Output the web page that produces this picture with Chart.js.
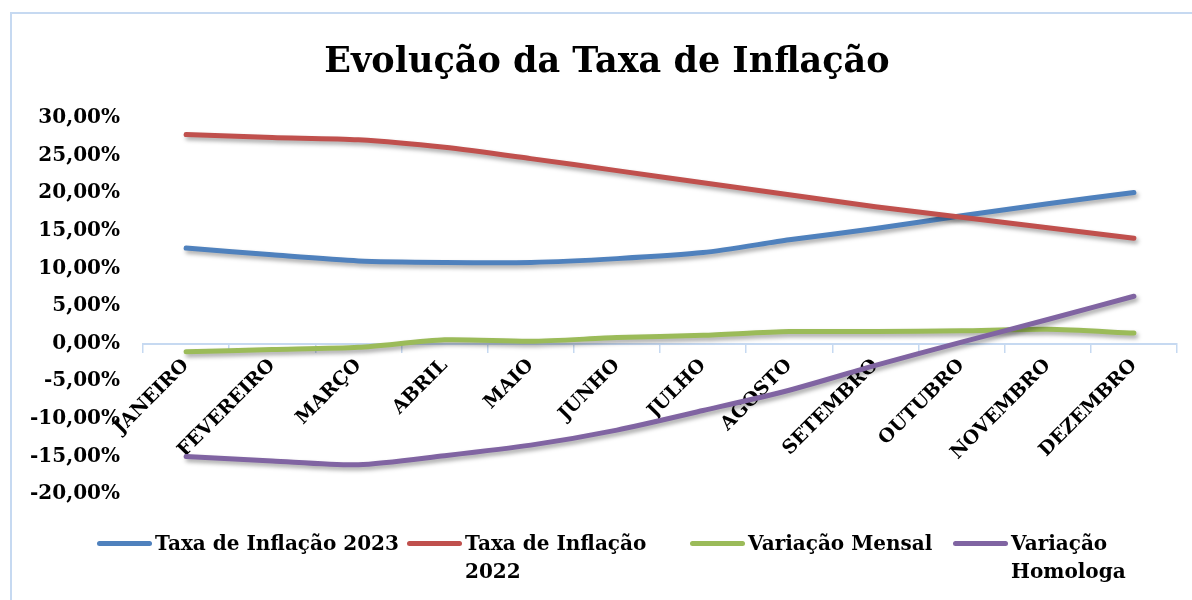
<!DOCTYPE html>
<html lang="pt">
<head>
    <meta charset="UTF-8">
    <title>Evolução da Taxa de Inflação</title>
    <script src="https://cdn.jsdelivr.net/npm/chart.js@4.4.1/dist/chart.umd.min.js"></script>
    <style>
        html, body {
            margin: 0;
            padding: 0;
            background: #ffffff;
        }
        .frame {
            position: relative;
            width: 1192px;
            height: 600px;
            overflow: hidden;
        }
        .border {
            position: absolute;
            left: 10px;
            top: 12px;
            width: 1200px;
            height: 600px;
            border-left: 2px solid #c6d9f1;
            border-top: 2px solid #c6d9f1;
            pointer-events: none;
        }
        canvas {
            position: absolute;
            left: 0;
            top: 0;
        }
        .title {
            position: absolute;
            left: 10px;
            width: 1194px;
            top: 40px;
            text-align: center;
            font-family: 'DejaVu Serif', serif;
            font-weight: bold;
            font-size: 35px;
            line-height: 40px;
            color: #000;
        }
        .legend-item {
            position: absolute;
            top: 529px;
            display: flex;
            align-items: flex-start;
            font-family: 'DejaVu Serif', serif;
            font-weight: bold;
            font-size: 20px;
            line-height: 28px;
            color: #000;
        }
        .legend-line {
            width: 55px;
            height: 5px;
            border-radius: 3px;
            margin-top: 12px;
            margin-right: 3px;
            flex: none;
        }
    </style>
</head>
<body>
    <div class="frame">
        <canvas id="chart" width="1192" height="600"></canvas>
        <div class="border"></div>
        <div class="title">Evolução da Taxa de Inflação</div>
        <div id="legend"></div>
    </div>

    <script>
        // Dados
        const months = ['JANEIRO', 'FEVEREIRO', 'MARÇO', 'ABRIL', 'MAIO', 'JUNHO',
            'JULHO', 'AGOSTO', 'SETEMBRO', 'OUTUBRO', 'NOVEMBRO', 'DEZEMBRO'];

        const taxa2023 = [12.7, 11.8, 11.0, 10.8, 10.8, 11.3, 12.1, 13.8, 15.3, 17.0, 18.6, 20.1];
        const taxa2022 = [27.8, 27.4, 27.1, 26.1, 24.6, 23.0, 21.4, 19.8, 18.2, 16.8, 15.4, 14.0];
        const variacaoMensal = [-1.1, -0.8, -0.5, 0.5, 0.3, 0.8, 1.1, 1.6, 1.6, 1.7, 1.9, 1.4];
        const variacaoHomologa = [-15.0, -15.6, -16.1, -14.9, -13.5, -11.5, -8.9, -6.2, -2.9, 0.2, 3.2, 6.3];

        const seriesNames = ['Taxa de Inflação 2023', 'Taxa de Inflação 2022', 'Variação Mensal', 'Variação Homologa'];
        const seriesColors = ['#4f81bd', '#c0504d', '#9bbb59', '#8064a2'];

        const yMin = -20;
        const yMax = 30;
        const yStep = 5;

        const serif = "'DejaVu Serif', serif";

        // sombra das linhas
        const shadowPlugin = {
            id: 'lineShadow',
            beforeDatasetDraw(chart) {
                const ctx = chart.ctx;
                ctx.save();
                ctx.shadowColor = 'rgba(0, 0, 0, 0.35)';
                ctx.shadowBlur = 4;
                ctx.shadowOffsetX = 2;
                ctx.shadowOffsetY = 3;
            },
            afterDatasetDraw(chart) {
                chart.ctx.restore();
            }
        };

        const allSeries = [taxa2023, taxa2022, variacaoMensal, variacaoHomologa];

        const chart = new Chart(document.getElementById('chart'), {
            type: 'line',
            data: {
                labels: months,
                datasets: allSeries.map((values, i) => ({
                    label: seriesNames[i],
                    data: values,
                    borderColor: seriesColors[i],
                    backgroundColor: seriesColors[i],
                    borderWidth: 5,
                    borderCapStyle: 'round',
                    borderJoinStyle: 'round',
                    pointRadius: 0,
                    tension: 0.25,
                    order: 4 - i
                }))
            },
            options: {
                responsive: false,
                animation: false,
                layout: {
                    padding: { left: 10, right: 15, top: 118, bottom: 106 }
                },
                plugins: {
                    legend: { display: false },
                    tooltip: { enabled: false },
                    title: { display: false }
                },
                scales: {
                    x: {
                        position: { y: 0 },
                        offset: true,
                        grid: {
                            display: true,
                            offset: true,
                            drawOnChartArea: false,
                            drawTicks: true,
                            tickLength: 8,
                            color: '#c6d9f1',
                            lineWidth: 1.5
                        },
                        border: { display: true, color: '#c6d9f1', width: 2 },
                        ticks: {
                            autoSkip: false,
                            maxRotation: 45,
                            minRotation: 45,
                            padding: 3,
                            color: '#000',
                            font: { family: serif, weight: 'bold', size: 19 }
                        }
                    },
                    y: {
                        min: yMin,
                        max: yMax,
                        afterFit(scale) { scale.width = 133; },
                        grid: { display: false, drawTicks: false },
                        border: { display: false },
                        ticks: {
                            stepSize: yStep,
                            padding: 23,
                            color: '#000',
                            font: { family: serif, weight: 'bold', size: 20 },
                            callback: v => v.toFixed(2).replace('.', ',') + '%'
                        }
                    }
                }
            },
            plugins: [shadowPlugin]
        });

        // Legenda em HTML (com quebra de linha como no original)
        const legendLeft = [97, 407, 690, 953];
        const legendWidth = [null, 205, null, 120];
        const legend = document.getElementById('legend');
        seriesNames.forEach((name, i) => {
            const item = document.createElement('div');
            item.className = 'legend-item';
            item.style.left = legendLeft[i] + 'px';
            const line = document.createElement('div');
            line.className = 'legend-line';
            line.style.background = seriesColors[i];
            const text = document.createElement('div');
            text.textContent = name;
            if (legendWidth[i]) {
                text.style.width = legendWidth[i] + 'px';
            } else {
                text.style.whiteSpace = 'nowrap';
            }
            item.appendChild(line);
            item.appendChild(text);
            legend.appendChild(item);
        });
    </script>
</body>
</html>
